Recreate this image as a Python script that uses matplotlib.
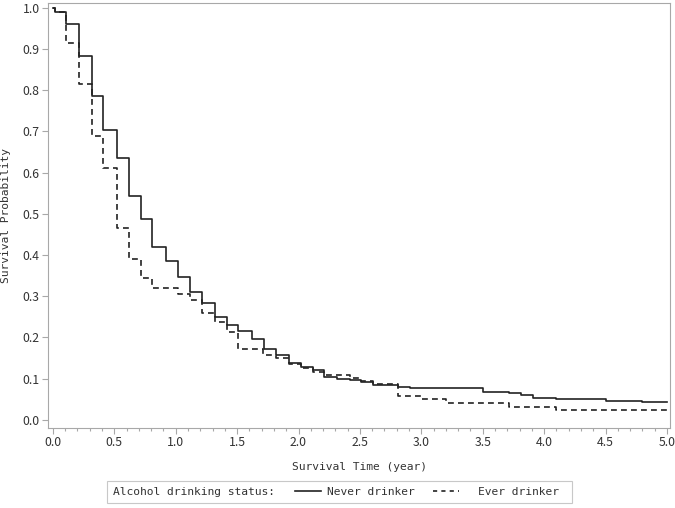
import matplotlib
matplotlib.use('Agg')
import matplotlib.pyplot as plt
from matplotlib.lines import Line2D
from matplotlib.patches import Rectangle
from matplotlib.ticker import MultipleLocator, FormatStrFormatter

# Kaplan-Meier step data (time in years, survival probability)
never_time = [0, 0.02, 0.11, 0.21, 0.32, 0.41, 0.52, 0.62, 0.72, 0.81,
              0.92, 1.02, 1.12, 1.21, 1.32, 1.42, 1.51, 1.62, 1.72, 1.82,
              1.92, 2.02, 2.12, 2.21, 2.31, 2.42, 2.51, 2.61, 2.81, 2.91,
              3.5, 3.71, 3.81, 3.91, 4.1, 4.5, 4.8, 5.0]
never_surv = [1.0, 0.99, 0.96, 0.883, 0.785, 0.703, 0.635, 0.543, 0.488, 0.42,
              0.386, 0.346, 0.311, 0.283, 0.249, 0.23, 0.216, 0.197, 0.172, 0.158,
              0.138, 0.129, 0.121, 0.105, 0.1, 0.097, 0.092, 0.085, 0.08, 0.078,
              0.068, 0.065, 0.059, 0.054, 0.05, 0.045, 0.042, 0.042]

ever_time = [0, 0.02, 0.11, 0.21, 0.32, 0.41, 0.52, 0.62, 0.72, 0.81,
             1.02, 1.12, 1.21, 1.32, 1.42, 1.51, 1.71, 1.82, 1.92, 2.02,
             2.12, 2.21, 2.42, 2.51, 2.61, 2.81, 3.0, 3.2, 3.71, 4.1,
             5.0]
ever_surv = [1.0, 0.99, 0.915, 0.816, 0.688, 0.611, 0.466, 0.39, 0.344, 0.321,
             0.305, 0.29, 0.26, 0.238, 0.214, 0.172, 0.158, 0.15, 0.136, 0.126,
             0.117, 0.109, 0.102, 0.093, 0.087, 0.058, 0.051, 0.041, 0.032, 0.024,
             0.024]

legend_title = 'Alcohol drinking status:'
group_names = ['Never drinker', 'Ever drinker']

plt.rcParams['font.family'] = ['DejaVu Sans Mono']
txt = '#333333'
edge = '#a8a8a8'
line_col = '#222222'
dash = (0, (3.5, 2.5))
W, H = 675, 508

fig = plt.figure(figsize=(6.75, 5.08), dpi=100)
ax = fig.add_axes([48 / W, 80 / H, 622 / W, 425 / H])

ax.plot(never_time, never_surv, drawstyle='steps-post', color=line_col, lw=1.2)
ax.plot(ever_time, ever_surv, drawstyle='steps-post', color=line_col, lw=1.2,
        linestyle=dash)

ax.set_xlim(-0.04, 5.025)
ax.set_ylim(-0.02, 1.012)
ax.xaxis.set_major_locator(MultipleLocator(0.5))
ax.xaxis.set_minor_locator(MultipleLocator(0.1))
ax.yaxis.set_major_locator(MultipleLocator(0.1))
ax.xaxis.set_major_formatter(FormatStrFormatter('%.1f'))
ax.yaxis.set_major_formatter(FormatStrFormatter('%.1f'))
ax.tick_params(axis='both', which='major', length=4, width=0.8, color=edge,
               labelsize=8.8, labelcolor=txt, pad=2)
ax.tick_params(axis='x', which='minor', length=2.5, width=0.8, color=edge)
for lab in ax.get_xticklabels() + ax.get_yticklabels():
    lab.set_family(['Noto Sans CJK SC', 'DejaVu Sans'])
for s in ax.spines.values():
    s.set_color(edge)
    s.set_linewidth(0.8)

ax.set_xlabel('Survival Time (year)', fontsize=8.1, color=txt, labelpad=9)
ax.set_ylabel('Survival Probability', fontsize=8.1, color=txt, labelpad=8)

# legend strip at the bottom
fig.add_artist(Rectangle((107 / W, 5 / H), 465 / W, 22 / H, transform=fig.transFigure,
                         fill=False, edgecolor='#c8c8c8', lw=0.8))
fig.text(113 / W, 16 / H, legend_title, fontsize=8.1, color=txt, va='center', ha='left')
solid_h = Line2D([], [], color=line_col, lw=1.2)
dash_h = Line2D([], [], color=line_col, lw=1.2, linestyle=(0, (2.5, 2.5)))
for h, name, x0, gap in [(solid_h, group_names[0], 295, 0.55),
                         (dash_h, group_names[1], 433, 1.7)]:
    fig.legend([h], [name], loc='center left', bbox_to_anchor=(x0 / W, 16 / H),
               fontsize=8.1, frameon=False, handlelength=2.3, handletextpad=gap,
               borderpad=0, borderaxespad=0, labelcolor=txt)

fig.savefig('out.png', dpi=100)
